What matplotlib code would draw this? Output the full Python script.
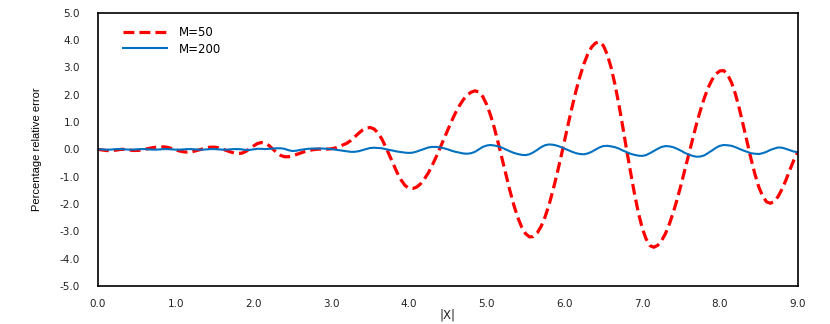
import numpy as np
import matplotlib
matplotlib.use("Agg")
import matplotlib.pyplot as plt

# |X| grid, step 0.05 from 0 to 9
x_vals = np.round(np.arange(181) * 0.05, 2)

# percentage relative error, M=50
err_m50 = [
    0.00, -0.02, -0.04, -0.05, -0.04, -0.02, 0.00, 0.00, -0.02, -0.04,
    -0.04, -0.03, 0.00, 0.03, 0.06, 0.08, 0.09, 0.09, 0.07, 0.03,
    -0.02, -0.06, -0.09, -0.10, -0.09, -0.06, -0.02, 0.02, 0.06, 0.08,
    0.08, 0.06, 0.02, -0.04, -0.09, -0.13, -0.15, -0.14, -0.08, 0.02,
    0.12, 0.21, 0.25, 0.23, 0.14, 0.01, -0.12, -0.22, -0.27, -0.27,
    -0.24, -0.19, -0.14, -0.09, -0.05, -0.02, 0.00, 0.01, 0.01, 0.01,
    0.02, 0.05, 0.10, 0.16, 0.22, 0.32, 0.45, 0.58, 0.70, 0.78,
    0.80, 0.75, 0.61, 0.39, 0.10, -0.22, -0.55, -0.86, -1.12, -1.32,
    -1.42, -1.43, -1.38, -1.26, -1.08, -0.86, -0.58, -0.28, 0.05, 0.38,
    0.72, 1.04, 1.34, 1.60, 1.82, 1.99, 2.09, 2.14, 2.10, 1.93,
    1.64, 1.25, 0.77, 0.22, -0.36, -0.95, -1.52, -2.04, -2.49, -2.84,
    -3.08, -3.20, -3.19, -3.06, -2.82, -2.48, -2.05, -1.53, -0.96, -0.35,
    0.30, 0.94, 1.56, 2.15, 2.67, 3.12, 3.48, 3.74, 3.89, 3.93,
    3.80, 3.48, 3.00, 2.38, 1.65, 0.84, -0.01, -0.82, -1.60, -2.30,
    -2.87, -3.27, -3.52, -3.58, -3.51, -3.34, -3.08, -2.73, -2.31, -1.83,
    -1.30, -0.74, -0.17, 0.39, 0.94, 1.43, 1.88, 2.26, 2.55, 2.76,
    2.87, 2.88, 2.73, 2.44, 2.02, 1.49, 0.89, 0.27, -0.34, -0.90,
    -1.37, -1.71, -1.92, -1.97, -1.90, -1.72, -1.45, -1.12, -0.75, -0.40,
    -0.12,
]

# percentage relative error, M=200
err_m200 = [
    0.00, 0.00, -0.01, -0.01, 0.00, 0.01, 0.01, 0.00, -0.01, -0.01,
    0.00, 0.01, 0.01, 0.00, -0.01, -0.01, 0.00, 0.01, 0.01, 0.00,
    -0.01, -0.01, 0.00, 0.01, 0.01, 0.00, -0.01, -0.01, 0.00, 0.01,
    0.01, 0.00, -0.01, -0.01, 0.00, 0.01, 0.01, 0.00, -0.02, -0.02,
    0.00, 0.02, 0.02, 0.01, 0.02, 0.03, 0.04, 0.04, 0.02, -0.03,
    -0.06, -0.05, -0.02, 0.00, 0.02, 0.03, 0.03, 0.03, 0.03, 0.02,
    0.01, -0.01, -0.03, -0.05, -0.07, -0.09, -0.09, -0.07, -0.03, 0.01,
    0.05, 0.06, 0.05, 0.04, 0.01, -0.02, -0.05, -0.08, -0.10, -0.12,
    -0.13, -0.12, -0.08, -0.03, 0.02, 0.07, 0.09, 0.09, 0.07, 0.04,
    0.00, -0.05, -0.09, -0.12, -0.15, -0.16, -0.14, -0.09, 0.00, 0.09,
    0.14, 0.16, 0.14, 0.11, 0.06, -0.01, -0.07, -0.13, -0.17, -0.20,
    -0.21, -0.18, -0.11, -0.02, 0.08, 0.15, 0.18, 0.17, 0.14, 0.09,
    0.03, -0.03, -0.09, -0.14, -0.17, -0.18, -0.15, -0.09, -0.01, 0.07,
    0.12, 0.13, 0.11, 0.08, 0.03, -0.04, -0.10, -0.16, -0.20, -0.23,
    -0.24, -0.21, -0.14, -0.06, 0.02, 0.09, 0.12, 0.11, 0.08, 0.02,
    -0.05, -0.13, -0.19, -0.24, -0.27, -0.26, -0.22, -0.13, -0.04, 0.06,
    0.13, 0.16, 0.15, 0.13, 0.08, 0.02, -0.04, -0.09, -0.14, -0.16,
    -0.17, -0.14, -0.09, -0.02, 0.03, 0.07, 0.06, 0.02, -0.03, -0.08,
    -0.10,
]

x_ticks = [0, 1, 2, 3, 4, 5, 6, 7, 8, 9]
y_ticks = [-5, -4, -3, -2, -1, 0, 1, 2, 3, 4, 5]

fig = plt.figure(figsize=(8.3, 3.24), dpi=100)
ax = fig.add_axes([0.118, 0.117, 0.843, 0.844])

ax.plot(x_vals, err_m50, color="#FF0000", lw=2.3, dashes=(3.4, 1.6), label="M=50")
ax.plot(x_vals, err_m200, color="#0070C0", lw=1.5, label="M=200")

ax.set_xlim(0, 9)
ax.set_ylim(-5, 5)
ax.set_xticks(x_ticks)
ax.set_yticks(y_ticks)
ax.set_xticklabels([f"{v:.1f}" for v in x_ticks])
ax.set_yticklabels([f"{v:.1f}" for v in y_ticks])
ax.tick_params(length=0, labelsize=7.5, colors="#222222")
ax.tick_params(axis="y", pad=13)
ax.tick_params(axis="x", pad=9)
for sp in ax.spines.values():
    sp.set_linewidth(1.2)
    sp.set_color("black")

ax.set_xlabel("|X|", fontsize=8.5, labelpad=0, color="#222222")
ax.set_ylabel("Percentage relative error", fontsize=8, labelpad=13,
              family=["Liberation Sans", "DejaVu Sans"])

ax.legend(loc="upper left", bbox_to_anchor=(0.021, 0.99), frameon=False,
          fontsize=8.5, handlelength=3.7, handletextpad=1.0, labelspacing=0.3)

fig.savefig("out.png", dpi=100)
